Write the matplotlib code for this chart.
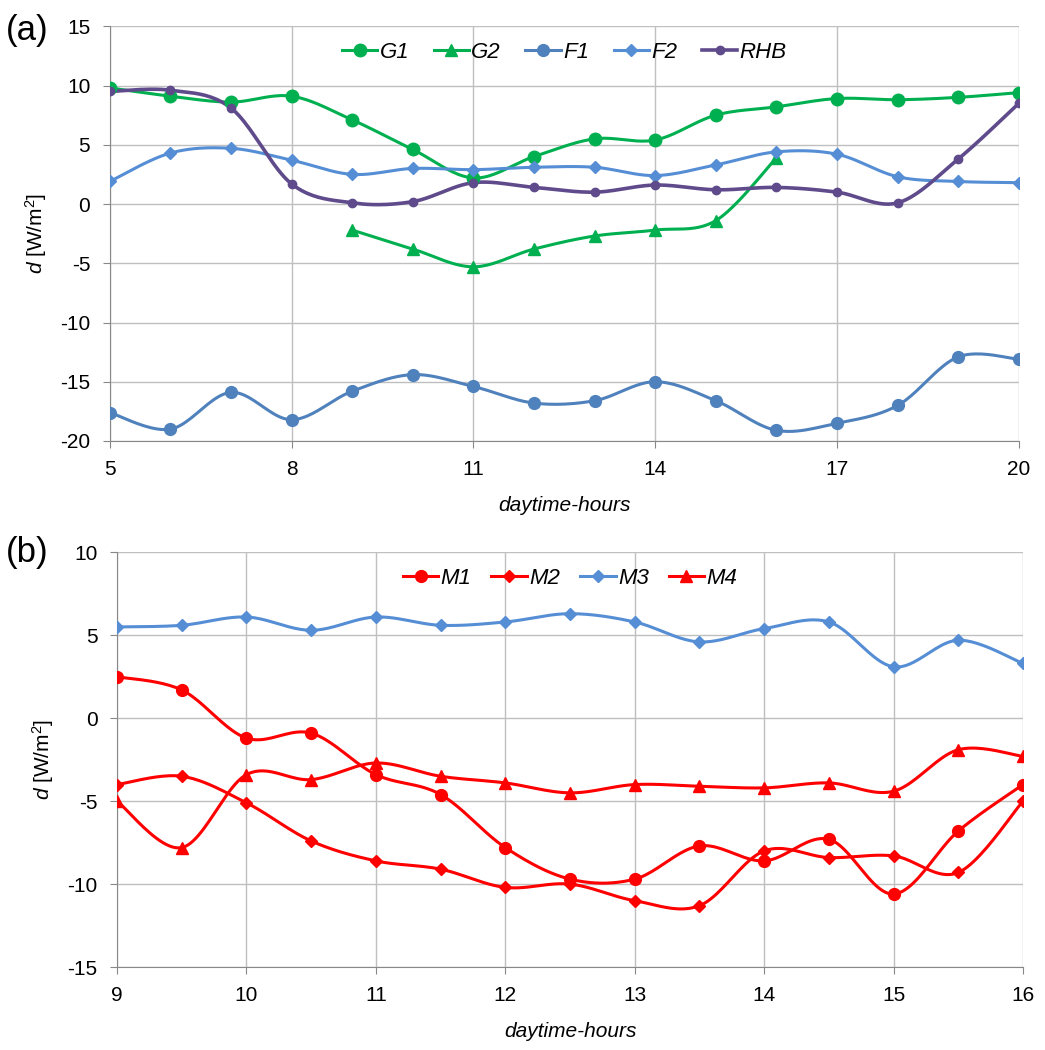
import numpy as np
import matplotlib.pyplot as plt

plt.rcParams['font.family'] = ['Liberation Sans', 'DejaVu Sans']
plt.rcParams['axes.unicode_minus'] = False
plt.rcParams['mathtext.fontset'] = 'custom'
plt.rcParams['mathtext.rm'] = 'Liberation Sans'
plt.rcParams['mathtext.it'] = 'Liberation Sans:italic'

# --- data panel (a) ---
hours_a = [5, 6, 7, 8, 9, 10, 11, 12, 13, 14, 15, 16, 17, 18, 19, 20]
g1 = [9.8, 9.1, 8.6, 9.1, 7.1, 4.6, 2.2, 4.0, 5.5, 5.4, 7.5, 8.2, 8.9, 8.8, 9.0, 9.4]
hours_g2 = [9, 10, 11, 12, 13, 14, 15, 16]
g2 = [-2.2, -3.8, -5.3, -3.8, -2.7, -2.2, -1.4, 3.9]
f1 = [-17.6, -19.0, -15.9, -18.2, -15.8, -14.4, -15.4, -16.8,
      -16.6, -15.0, -16.6, -19.1, -18.5, -17.0, -12.9, -13.1]
f2 = [1.9, 4.3, 4.7, 3.7, 2.5, 3.0, 2.9, 3.1, 3.1, 2.4, 3.3, 4.4, 4.2, 2.3, 1.9, 1.8]
rhb = [9.5, 9.6, 8.1, 1.7, 0.1, 0.2, 1.8, 1.4, 1.0, 1.6, 1.2, 1.4, 1.0, 0.1, 3.8, 8.5]

# --- data panel (b) ---
hours_b = [9, 9.5, 10, 10.5, 11, 11.5, 12, 12.5, 13, 13.5, 14, 14.5, 15, 15.5, 16]
m1 = [2.5, 1.7, -1.2, -0.9, -3.4, -4.6, -7.8, -9.7, -9.7, -7.7, -8.6, -7.3, -10.6, -6.8, -4.0]
m2 = [-4.0, -3.5, -5.1, -7.4, -8.6, -9.1, -10.2, -10.0, -11.0, -11.3, -8.0, -8.4, -8.3, -9.3, -5.0]
m3 = [5.5, 5.6, 6.1, 5.3, 6.1, 5.6, 5.8, 6.3, 5.8, 4.6, 5.4, 5.8, 3.1, 4.7, 3.3]
m4 = [-5.0, -7.8, -3.4, -3.7, -2.7, -3.5, -3.9, -4.5, -4.0, -4.1, -4.2, -3.9, -4.4, -1.9, -2.3]

GREEN = '#00B050'
BLUE = '#558ED5'
BLUE_DARK = '#4F81BD'
PURPLE = '#5F4B8B'
RED = '#FF0000'


# Excel-like smoothed line (Catmull-Rom bezier between points)
def smooth(x, y, n=24):
    x = np.asarray(x, float)
    y = np.asarray(y, float)
    px = np.concatenate([[x[0]], x, [x[-1]]])
    py = np.concatenate([[y[0]], y, [y[-1]]])
    xs, ys = [], []
    t = np.linspace(0, 1, n)
    for i in range(1, len(px) - 2):
        p0 = np.array([px[i], py[i]])
        p3 = np.array([px[i + 1], py[i + 1]])
        c1 = p0 + (p3 - np.array([px[i - 1], py[i - 1]])) / 6
        c2 = p3 - (np.array([px[i + 2], py[i + 2]]) - p0) / 6
        b = ((1 - t) ** 3)[:, None] * p0 + (3 * (1 - t) ** 2 * t)[:, None] * c1 \
            + (3 * (1 - t) * t ** 2)[:, None] * c2 + (t ** 3)[:, None] * p3
        xs.extend(b[:, 0])
        ys.extend(b[:, 1])
    return xs, ys


def serie(ax, x, y, color, marker, ms, lw, label):
    sx, sy = smooth(x, y)
    ax.plot(sx, sy, color=color, lw=lw, zorder=3)
    ax.plot(x, y, linestyle='none', marker=marker, ms=ms, color=color, zorder=4)
    ax.plot([], [], color=color, lw=lw, marker=marker, ms=ms, label=label)


def style_axis(ax):
    ax.grid(True, color='#BFBFBF', lw=1)
    ax.set_axisbelow(True)
    for s in ['top', 'right']:
        ax.spines[s].set_visible(False)
    for s in ['left', 'bottom']:
        ax.spines[s].set_color('#888888')
    ax.tick_params(labelsize=15, colors='#888888', labelcolor='black', length=5)
    ax.tick_params(axis='y', pad=9)
    ax.tick_params(axis='x', pad=9)
    ax.set_ylabel(r'$\mathit{d}$ [W/m$^2$]', fontsize=15, labelpad=8)
    ax.set_xlabel('daytime-hours', fontsize=15, style='italic', labelpad=12)


def legenda(ax, ncol, spacing):
    leg = ax.legend(loc='upper center', ncol=ncol, frameon=False, fontsize=16,
                    handlelength=1.6, columnspacing=spacing, handletextpad=0.1,
                    bbox_to_anchor=(0.5, 1.0), borderaxespad=0.3)
    for t in leg.get_texts():
        t.set_style('italic')


fig = plt.figure(figsize=(10.45, 10.5), dpi=100)

# ---- (a) ----
ax1 = fig.add_axes([0.105, 0.58, 0.870, 0.395])
serie(ax1, hours_a, g1, GREEN, 'o', 9, 2.2, 'G1')
serie(ax1, hours_g2, g2, GREEN, '^', 9, 2.2, 'G2')
serie(ax1, hours_a, f1, BLUE_DARK, 'o', 8.5, 2.2, 'F1')
serie(ax1, hours_a, f2, BLUE, 'D', 6, 2.2, 'F2')
serie(ax1, hours_a, rhb, PURPLE, 'o', 6, 2.6, 'RHB')
ax1.set_xlim(5, 20)
ax1.set_ylim(-20, 15)
ax1.set_xticks([5, 8, 11, 14, 17, 20])
ax1.set_yticks(range(-20, 16, 5))
style_axis(ax1)
legenda(ax1, 5, 1.1)
fig.text(0.006, 0.971, '(a)', fontsize=25, va='center')

# ---- (b) ----
ax2 = fig.add_axes([0.112, 0.079, 0.867, 0.395])
serie(ax2, hours_b, m1, RED, 'o', 8.5, 2.2, 'M1')
serie(ax2, hours_b, m2, RED, 'D', 6.5, 2.2, 'M2')
serie(ax2, hours_b, m3, BLUE, 'D', 6.5, 2.2, 'M3')
serie(ax2, hours_b, m4, RED, '^', 8.5, 2.2, 'M4')
ax2.set_xlim(9, 16)
ax2.set_ylim(-15, 10)
ax2.set_xticks(range(9, 17))
ax2.set_yticks(range(-15, 11, 5))
style_axis(ax2)
legenda(ax2, 4, 0.9)
fig.text(0.006, 0.474, '(b)', fontsize=25, va='center')

fig.savefig('out.png', dpi=100)
